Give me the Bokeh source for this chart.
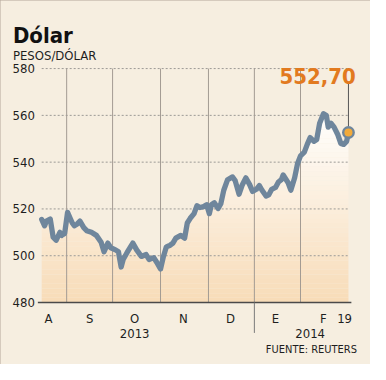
from bokeh.plotting import figure
from bokeh.models import Range1d, Label
from bokeh.core.properties import value
from bokeh.embed import file_html
from bokeh.resources import INLINE
import numpy as np

# ---- data ----
trading_day = [0, 1.3, 2.1, 3.8, 5.1, 6.4, 8.1, 8.9, 10.2, 11.5, 12.8, 13.6, 14.5, 15.8, 17.0,
               18.7, 20.0, 22.1, 24.3, 26.4, 27.7, 29.4, 30.7, 32.8, 34.1, 35.3, 36.2, 37.9,
               40.5, 42.2, 44.3, 46.4, 47.7, 49.8, 51.1, 52.8, 54.1, 55.4, 57.1, 58.3, 59.6,
               61.8, 63.5, 64.7, 66.0, 67.7, 69.0, 70.3, 72.0, 73.3, 74.5, 75.4, 76.7, 78.4,
               79.6, 80.9, 82.6, 84.8, 86.0, 87.7, 89.0, 90.7, 92.4, 93.7, 95.4, 96.7, 97.9,
               99.7, 100.9, 102.2, 103.9, 105.2, 106.5, 107.3, 109.5, 110.7, 112.4, 113.7,
               115.0, 116.7, 118.0, 119.3, 121.0, 122.2, 123.5, 125.2, 126.5, 127.3, 128.6,
               129.9, 131.6, 132.9, 134.2, 135.5, 136.3]
pesos_per_dollar = [515.5, 512.8, 514.8, 515.7, 507.9, 506.6, 510.0, 508.7, 509.5, 518.5, 515.7,
                    514.0, 512.8, 513.6, 514.8, 512.0, 510.7, 510.0, 508.7, 505.8, 501.7, 505.4,
                    503.4, 502.5, 501.7, 495.2, 498.4, 501.3, 505.4, 502.5, 499.7, 500.5, 498.4,
                    499.2, 497.2, 494.3, 499.7, 503.8, 504.5, 505.4, 507.5, 508.7, 507.5, 514.0,
                    516.0, 518.0, 521.4, 520.6, 521.0, 521.8, 518.0, 521.8, 522.6, 520.2, 522.2,
                    528.0, 532.5, 533.7, 532.0, 526.3, 530.0, 533.3, 530.4, 527.5, 528.4, 530.0,
                    528.0, 525.5, 526.0, 528.4, 529.2, 531.5, 532.5, 534.5, 531.2, 528.0, 533.3,
                    539.4, 542.7, 544.3, 547.6, 550.5, 548.9, 549.7, 556.6, 560.7, 559.9, 555.0,
                    556.6, 555.0, 551.7, 548.0, 547.6, 548.9, 552.7]
month_bounds = [11.1, 31.5, 52.8, 74.1, 94.5, 115.0]
month_ticks = [3.0, 21.3, 41.3, 63.0, 83.9, 103.9, 125.2, 134.6]
month_labels = ["A", "S", "O", "N", "D", "E", "F", "19"]
year_ticks = [41.3, 119.3]
year_labels = ["2013", "2014"]
year_split = 94.5
y_ticks = [480, 500, 520, 540, 560, 580]
last_label = "552,70"
title_text = "Dólar"
subtitle_text = "PESOS/DÓLAR"
source_text = "FUENTE: REUTERS"

FONT = "DejaVu Sans Condensed"
BG = "#f6eee0"
LINE = "#6f869c"
TXT = "#1e1e1e"
ORANGE = "#e27a1f"

x = np.array(trading_day)
y = np.array(pesos_per_dollar)
x_first, x_last = x[0], x[-1]

p = figure(width=370, height=364, output_backend="svg", toolbar_location=None,
           x_range=Range1d(-18.3, 146.1), y_range=Range1d(453.5, 609.1),
           x_axis_type=None, y_axis_type=None,
           min_border=0, min_border_left=0, min_border_right=0,
           min_border_top=0, min_border_bottom=0,
           background_fill_color=BG, border_fill_color=BG, outline_line_color=None)
p.styles = {"outline": "2px solid #b5a79b", "outline-offset": "-2px"}

y_lo, y_hi = y_ticks[0], y_ticks[-1]

# gradient fill under the curve (stacked bands)
bottom_c = np.array([248, 220, 184])
top_c = np.array([255, 254, 252])
step = 2.0
for k in range(41):
    lo = y_lo + k * step
    hi = lo + step
    if y.max() <= lo:
        break
    t = min(1.0, (lo + step / 2 - y_lo) / 78.0)
    c = (bottom_c * (1 - t) + top_c * t).astype(int)
    p.varea(x=x, y1=lo, y2=np.clip(y, lo, hi), fill_color="#%02x%02x%02x" % tuple(c))

# grid lines (dashed horizontals, solid month separators)
p.segment(x0=[x_first] * (len(y_ticks) - 1), x1=[x_last] * (len(y_ticks) - 1),
          y0=y_ticks[1:], y1=y_ticks[1:], line_color="#9c9a96", line_dash="2 2", line_width=1)
p.segment(x0=month_bounds, x1=month_bounds, y0=[y_lo] * len(month_bounds),
          y1=[y_hi] * len(month_bounds), line_color="#a39b93", line_width=1)

# baseline (x axis line) and year separator
p.segment(x0=[x_first - 1.7], x1=[x_last + 1.3], y0=[y_lo], y1=[y_lo],
          line_color="#4a4a4a", line_width=1.5)
p.segment(x0=[year_split], x1=[year_split], y0=[y_lo], y1=[467.0],
          line_color="#7a7a7a", line_width=1)

# series
p.line(x, y, line_color=LINE, line_width=5.3, line_join="round", line_cap="round")
p.segment(x0=[x_last], y0=[y[-1] + 2.5], x1=[x_last], y1=[574.3], line_color="#555555", line_width=1)
p.scatter([x_last], [y[-1]], size=10.5, fill_color="#f2aa3a", line_color=LINE, line_width=2.4)

# tick labels
p.text(x=[-3.0] * len(y_ticks), y=y_ticks, text=[str(v) for v in y_ticks],
       text_align="right", text_baseline="middle", text_font=value(FONT),
       text_font_size="13px", text_color=TXT)
p.text(x=month_ticks, y=[473.2] * len(month_ticks), text=month_labels,
       text_align="center", text_baseline="alphabetic", text_font=value(FONT),
       text_font_size="13px", text_color=TXT)
p.text(x=year_ticks, y=[466.6] * len(year_ticks), text=year_labels,
       text_align="center", text_baseline="alphabetic", text_font=value(FONT),
       text_font_size="13px", text_color=TXT)

# texts
p.add_layout(Label(x=-12.8, y=594.3, text=title_text, text_font=FONT, text_font_size="22px",
                   text_font_style="bold", text_color="#111111", text_baseline="alphabetic"))
p.add_layout(Label(x=-12.8, y=585.7, text=subtitle_text, text_font=FONT, text_font_size="13px",
                   text_color=TXT, text_baseline="alphabetic"))
p.add_layout(Label(x=139.6, y=576.7, text=last_label, text_font=FONT, text_font_size="22px",
                   text_font_style="bold", text_color=ORANGE, text_align="right",
                   text_baseline="alphabetic"))
p.add_layout(Label(x=140.1, y=460.0, text=source_text, text_font=FONT, text_font_size="11px",
                   text_color=TXT, text_align="right", text_baseline="alphabetic"))

open("out.html", "w").write(file_html(p, INLINE))
